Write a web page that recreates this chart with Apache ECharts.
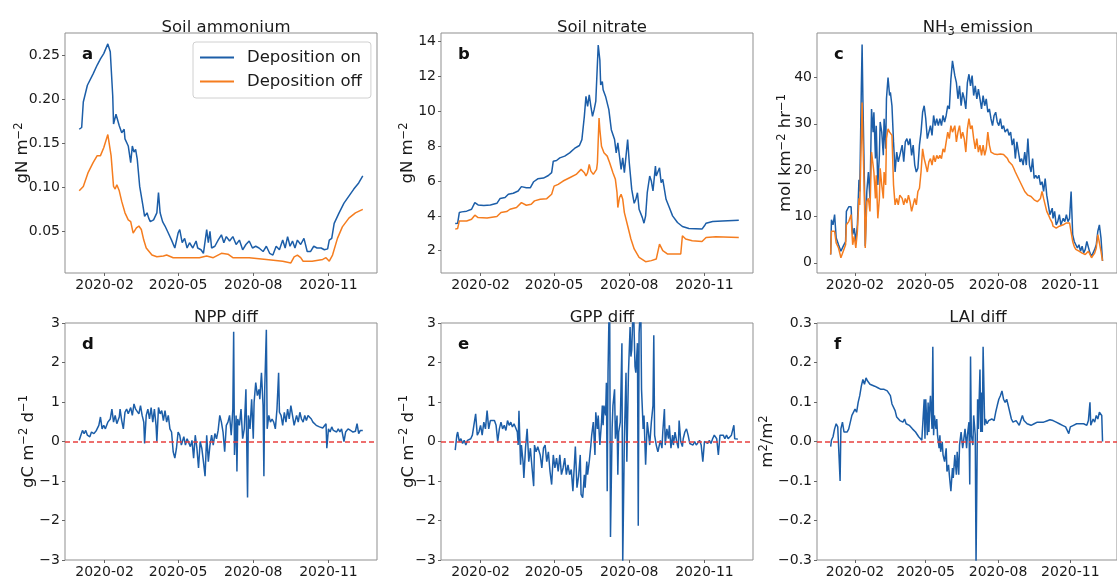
<!DOCTYPE html>
<html><head><meta charset="utf-8">
<script src="https://cdn.jsdelivr.net/npm/echarts@6/dist/echarts.min.js"></script>
<style>html,body{margin:0;padding:0;background:#fff}#c{width:1117px;height:579px}</style>
</head><body><div id="c"></div><script>
// x positions are day of year 2020 (0 = 2020-01-01)
const xTickDays = [31, 121, 213, 305];
const xTickLabels = ['2020-02', '2020-05', '2020-08', '2020-11'];

const aOn = [[0,0.166],[3,0.168],[5,0.197],[10,0.216],[17,0.229],[22,0.239],[26,0.246],[30,0.252],[35,0.263],[38,0.254],[41,0.204],[42,0.172],[45,0.183],[47,0.181],[49,0.17],[52,0.162],[55,0.166],[56,0.155],[60,0.147],[63,0.128],[65,0.147],[67,0.14],[69,0.143],[71,0.132],[74,0.101],[78,0.079],[80,0.067],[83,0.071],[85,0.065],[87,0.061],[91,0.063],[95,0.071],[97,0.094],[99,0.071],[102,0.061],[105,0.056],[109,0.048],[113,0.04],[117,0.031],[121,0.048],[123,0.052],[126,0.037],[129,0.042],[132,0.031],[135,0.037],[139,0.031],[143,0.039],[145,0.031],[149,0.029],[152,0.025],[156,0.052],[158,0.037],[160,0.05],[162,0.031],[166,0.033],[170,0.04],[174,0.046],[177,0.037],[180,0.044],[184,0.039],[188,0.044],[192,0.035],[196,0.04],[200,0.029],[204,0.035],[208,0.039],[212,0.031],[216,0.033],[220,0.031],[225,0.027],[229,0.033],[233,0.025],[237,0.023],[241,0.033],[245,0.029],[249,0.04],[252,0.031],[255,0.044],[258,0.033],[261,0.039],[264,0.031],[267,0.04],[271,0.035],[275,0.042],[279,0.027],[283,0.027],[287,0.033],[291,0.031],[296,0.031],[300,0.029],[304,0.03],[306,0.04],[309,0.042],[312,0.059],[318,0.071],[324,0.082],[330,0.09],[336,0.098],[342,0.105],[347,0.113]];
const aOff = [[0,0.096],[5,0.101],[11,0.117],[17,0.128],[22,0.136],[26,0.136],[30,0.145],[35,0.16],[37,0.159],[39,0.136],[42,0.101],[44,0.098],[46,0.103],[49,0.096],[52,0.084],[56,0.071],[60,0.063],[63,0.061],[66,0.048],[70,0.054],[73,0.056],[76,0.052],[79,0.04],[82,0.031],[89,0.023],[95,0.021],[103,0.022],[107,0.023],[115,0.02],[131,0.02],[147,0.02],[156,0.022],[164,0.02],[174,0.025],[182,0.024],[188,0.02],[208,0.02],[229,0.018],[249,0.016],[259,0.014],[263,0.021],[267,0.023],[271,0.02],[274,0.016],[285,0.016],[298,0.018],[302,0.02],[306,0.016],[310,0.023],[316,0.042],[322,0.055],[330,0.065],[338,0.071],[347,0.075]];

const bOn = [[0,3.56],[3,3.58],[5,4.19],[8,4.23],[14,4.27],[20,4.38],[24,4.76],[28,4.63],[35,4.6],[43,4.63],[51,4.72],[55,5.0],[61,5.05],[65,5.24],[71,5.3],[77,5.43],[81,5.68],[87,5.62],[92,5.62],[96,5.96],[101,6.13],[108,6.17],[114,6.32],[118,6.48],[120,7.14],[124,7.18],[128,7.33],[134,7.43],[140,7.62],[146,7.87],[152,8.04],[155,8.38],[158,9.71],[160,10.86],[162,10.29],[164,10.95],[166,10.29],[168,9.71],[170,10.1],[172,10.57],[173,10.67],[175,13.81],[177,12.95],[178,11.52],[180,11.71],[181,11.24],[184,10.86],[186,10.76],[188,10.1],[191,8.95],[193,8.86],[195,8.38],[197,7.62],[199,8.19],[201,7.43],[203,6.67],[205,7.33],[207,6.48],[209,7.43],[211,8.38],[213,7.05],[216,5.52],[219,4.72],[221,4.95],[223,5.33],[225,4.38],[229,3.9],[231,3.58],[233,4.0],[235,5.33],[238,6.29],[240,6.0],[242,5.43],[244,5.43],[245,6.86],[246,6.29],[248,6.29],[250,6.76],[252,5.9],[254,6.1],[258,4.95],[262,4.48],[266,4.0],[272,3.62],[278,3.39],[286,3.28],[302,3.24],[305,3.43],[307,3.58],[315,3.68],[327,3.71],[347,3.75]];
const bOff = [[0,3.24],[3,3.28],[5,3.71],[14,3.71],[20,3.81],[24,4.04],[28,3.9],[39,3.88],[51,3.96],[56,4.19],[63,4.25],[67,4.38],[75,4.48],[81,4.76],[87,4.61],[93,4.67],[97,4.86],[104,4.95],[112,4.99],[118,5.24],[121,5.71],[126,5.81],[132,6.0],[140,6.19],[148,6.38],[154,6.67],[158,6.48],[160,6.29],[162,6.48],[164,6.95],[166,6.57],[169,6.38],[173,6.67],[174,7.05],[176,9.62],[177,8.95],[179,8.0],[182,7.62],[186,7.43],[189,7.05],[193,6.48],[196,6.1],[198,5.33],[199,4.48],[201,5.05],[203,5.24],[205,4.95],[207,4.19],[211,3.43],[215,2.67],[219,2.1],[225,1.62],[233,1.37],[240,1.43],[246,1.52],[248,1.49],[250,2.38],[254,2.0],[260,1.81],[276,1.81],[278,2.86],[282,2.67],[290,2.57],[302,2.53],[307,2.76],[319,2.8],[347,2.76]];

const cDays = [0,1,3,5,7,10,13,16,19,20,23,26,27,28,30,32,34,36,37,39,40,41,43,44,46,48,50,52,54,55,57,58,60,62,63,65,67,68,70,71,73,75,76,78,80,82,84,86,88,91,93,95,97,99,101,103,105,107,109,111,113,115,117,119,121,123,125,127,129,131,133,135,137,139,141,143,145,147,149,151,153,155,158,160,162,164,166,168,170,172,174,176,178,180,182,184,186,188,190,192,194,196,198,200,202,204,206,208,210,212,214,216,218,220,222,225,227,229,231,233,235,237,239,241,243,245,247,249,251,253,255,257,259,261,263,265,267,269,271,273,275,277,279,282,283,285,287,289,291,293,296,298,300,302,304,306,308,310,312,314,316,318,320,322,324,326,328,330,332,334,336,338,340,342,344,346];
const cOn = [1.8,9.3,8.2,10.4,5.4,3.9,2.5,3.6,4.6,11.1,12.1,12.1,8.2,6.1,7.5,4.6,8.2,17.9,15.4,37.5,47.1,35.4,16.8,3.6,15.4,19.6,13.9,33.2,28.2,32.5,22.5,29.6,16.8,23.2,30.4,28.2,23.2,31.1,24.6,35.4,40,36.1,36.8,33.9,26.1,19.6,23.9,21.8,23.2,25.4,21.8,26.1,26.8,25.4,26.8,23.2,25.4,21.1,19.6,20.4,25.4,28.2,32.5,33.9,31.1,26.8,28.2,29.6,27.5,31.8,29.6,31.1,29.6,31.1,29.6,31.8,30.4,31.8,33.9,33.2,39.6,43.6,40.4,38.9,35.4,38.2,33.9,36.8,35.4,33.2,38.9,40.7,38.2,40.4,36.1,38.2,35.4,37.5,35.4,33.2,36.1,33.9,35.4,32.5,33.2,31.1,29.6,31.8,32.5,30.4,29.6,31.1,28.9,29.6,28.2,28.9,27.5,28.2,25.4,26.8,22.5,26.1,23.9,21.8,22.5,21.1,23.9,21.1,26.8,21.1,19.6,22.5,18.2,18.9,18.2,18.9,16.8,17.5,15.4,18.2,14.6,12.5,10.4,11.8,9.6,11.1,8.2,8.9,10.4,8.2,9.6,8.9,10.4,8.9,9.6,15.4,6.1,4.6,3.9,3.2,3.9,2.5,3.6,2.1,2.9,4.6,4.3,2.1,1.4,1.8,2.9,3.9,6.8,8.2,5.4,0.4];
const cOff = [1.8,6.8,7.1,6.8,4.3,3.2,1.1,2.5,3.9,8.2,8.9,10.4,6.8,3.9,5.7,3.2,6.8,13.9,12.5,26.8,34.6,26.8,13.9,3.2,13.2,13.9,11.1,23.9,21.1,19.6,13.9,18.9,9.6,13.9,20.4,16.8,13.9,19.6,16.8,26.8,28.9,28.2,28.6,27.5,16.8,12.5,13.9,12.5,14.6,13.9,12.5,13.9,12.9,14.6,13.2,11.1,12.5,13.9,12.5,15.4,16.1,19.6,24.6,22.5,21.1,19.6,21.8,22.5,21.1,23.2,21.8,23.2,22.5,23.2,22.5,24.6,23.9,26.1,28.2,26.8,29.6,28.2,29.6,26.1,28.2,29.6,26.8,28.2,26.8,23.9,28.9,31.1,28.9,29.6,26.8,24.6,26.8,23.9,25.4,23.2,25.4,23.2,24.6,28.2,25.4,23.9,23.6,23.5,23.9,23.4,23.2,23.5,23.6,23.4,23.2,22.5,21.8,21.5,21.1,20.4,19.6,18.9,18.2,17.5,16.8,16.1,15.4,15.0,14.6,14.4,14.3,13.9,13.6,13.4,13.2,13.5,13.9,15.4,13.9,12.5,11.1,10.4,9.6,8.6,7.9,7.7,7.5,7.7,7.9,8.0,8.2,8.4,8.6,8.6,8.6,8.2,4.6,3.5,2.9,2.7,2.5,2.3,2.1,1.9,1.8,2.2,2.5,1.8,1.1,1.6,2.1,3.2,6.1,6.1,2.5,0.4];

const dNpp = [[0,0.03],[2,0.16],[4,0.28],[6,0.2],[8,0.28],[10,0.16],[13,0.12],[15,0.24],[18,0.2],[21,0.28],[24,0.41],[26,0.62],[28,0.32],[30,0.41],[32,0.32],[35,0.49],[38,0.57],[40,0.82],[42,0.49],[44,0.66],[46,0.45],[49,0.62],[50,0.82],[52,0.53],[54,0.32],[56,0.74],[58,0.82],[60,0.7],[63,0.86],[65,0.66],[67,0.95],[69,0.82],[71,0.86],[73,0.7],[75,0.91],[77,0.66],[79,0.49],[80,-0.05],[82,0.66],[84,0.82],[86,0.57],[88,0.86],[90,0.49],[92,0.82],[94,0.41],[95,0],[97,0.86],[99,0.7],[101,0.78],[103,0.53],[105,0.78],[107,0.49],[109,0.66],[111,0.32],[113,0.24],[115,-0.26],[117,-0.42],[119,-0.17],[121,0.24],[123,0.16],[125,-0.09],[128,0.12],[130,-0.09],[132,0.07],[134,0.12],[136,-0.13],[138,0.03],[140,-0.42],[142,0.16],[144,-0.17],[146,-0.67],[148,0],[150,-0.17],[152,-0.51],[154,-0.88],[156,0.16],[158,-0.51],[160,-0.09],[162,0.16],[164,-0.09],[166,0.2],[168,0.07],[170,0.28],[172,0.66],[174,0.49],[176,0.24],[178,-0.26],[180,0.41],[182,0.49],[184,0.66],[186,0.16],[188,0.82],[189,2.78],[190,-0.34],[192,0.66],[193,-0.76],[194,0.57],[196,0.41],[198,0.82],[200,0.07],[202,0.32],[204,1.32],[206,-1.42],[207,0.66],[209,0.32],[211,1.07],[213,0.07],[214,0.99],[216,1.49],[218,1.16],[220,1.32],[221,1.07],[223,1.74],[225,0.91],[226,-0.88],[227,1.32],[229,2.83],[230,0.32],[232,0.66],[234,0.49],[236,0.57],[238,0.49],[240,0.32],[242,0.82],[244,1.74],[245,0.74],[247,0.66],[249,0.41],[251,0.74],[253,0.49],[255,0.82],[257,0.57],[259,0.91],[261,0.66],[263,0.41],[266,0.66],[268,0.49],[270,0.74],[272,0.57],[274,0.49],[276,0.66],[278,0.53],[280,0.66],[282,0.66],[284,0.57],[286,0.49],[288,0.53],[290,0.41],[292,0.45],[294,0.37],[296,0.39],[298,0.34],[300,0.34],[302,0.45],[303,-0.17],[305,0.32],[307,0.24],[309,0.37],[311,0.28],[313,0.32],[315,0.24],[317,0.32],[319,0.24],[321,0.32],[323,0.28],[324,0],[326,0.24],[329,0.32],[332,0.28],[335,0.24],[338,0.26],[340,0.45],[342,0.2],[344,0.28],[346,0.24],[347,0.28]];

const eGpp = [[0,-0.22],[2,0.16],[3,0.24],[5,0],[7,0.07],[9,-0.05],[11,0.03],[13,-0.09],[15,0.03],[17,0],[19,0.07],[21,0.16],[23,0.12],[25,0.7],[27,0.16],[29,0.24],[31,0.41],[33,0.16],[35,0.49],[37,0.32],[39,0.78],[41,0.32],[43,0.53],[45,0.49],[48,0.53],[50,0.41],[52,0],[54,0.32],[56,0.49],[58,0.32],[60,0.41],[62,0.28],[64,0.53],[66,0.41],[68,0.49],[70,0.37],[72,0.45],[74,0.41],[76,0.24],[77,-0.09],[78,0.78],[80,-0.59],[81,-0.09],[83,-0.51],[84,-0.92],[86,-0.17],[88,0.32],[90,-0.51],[92,-0.17],[94,-0.67],[96,-1.13],[97,-0.09],[99,-0.26],[101,-0.13],[104,-0.34],[106,-0.67],[108,-0.17],[110,-0.09],[112,-0.51],[114,-0.26],[116,-0.76],[118,-1.09],[120,-0.34],[122,-0.67],[124,-0.42],[126,-0.76],[128,-0.34],[130,-0.84],[132,-0.67],[134,-0.42],[136,-0.84],[138,-0.59],[140,-0.84],[142,-0.71],[144,-1.26],[146,-0.51],[147,-0.13],[149,-1.17],[151,-0.88],[153,-0.34],[154,-1.34],[156,-1.42],[158,-0.84],[159,-1.17],[161,-0.51],[162,-0.84],[164,-0.51],[166,-0.09],[167,0.16],[169,0.49],[171,-0.34],[172,0.74],[174,0.32],[175,0.66],[177,-0.09],[179,0.49],[180,0.91],[181,0.41],[182,0.91],[184,0.66],[185,1.49],[186,-1.26],[187,1.74],[188,3.0],[189,3.6],[190,-2.42],[192,0.32],[193,0.91],[195,1.32],[196,0.07],[198,0.66],[199,-0.84],[200,0.24],[202,0.49],[204,2.49],[205,-3.1],[207,0.07],[209,1.74],[210,-0.51],[212,1.74],[214,2.9],[215,2.15],[216,2.32],[218,3.6],[220,1.9],[221,1.74],[223,2.49],[224,-2.13],[225,2.73],[227,3.6],[228,1.32],[230,0.32],[231,0.66],[233,-0.59],[235,0.49],[236,0.32],[238,-0.09],[240,0.49],[242,0.91],[243,2.69],[244,0.16],[246,-0.09],[248,-0.26],[249,-0.17],[251,0.03],[253,-0.17],[254,0.24],[256,0.82],[257,-0.09],[259,0.32],[261,0.07],[262,0.41],[264,-0.17],[266,0.16],[267,-0.09],[269,0.24],[271,0],[273,-0.17],[274,0.53],[276,0],[278,-0.13],[279,0.07],[281,0.24],[283,0.32],[285,0.16],[287,-0.05],[289,0],[291,-0.09],[293,0],[295,-0.09],[297,-0.05],[299,0.03],[301,-0.09],[303,-0.51],[305,0],[307,0.03],[309,-0.05],[311,0.03],[313,-0.05],[315,0.07],[317,0.16],[320,0.07],[322,-0.34],[324,0.16],[326,0.12],[328,0.16],[330,0.07],[332,0.16],[334,0.07],[336,0.12],[338,0.16],[340,0.2],[341,0.41],[342,0.07],[344,0.03],[346,0.06]];

const fLai = [[0,-0.013],[1,0.003],[3,0.012],[5,0.032],[7,0.045],[9,0.037],[11,0.041],[12,-0.1],[13,0.032],[15,0.049],[17,0.024],[19,0.028],[21,0.024],[23,0.032],[25,0.049],[27,0.066],[29,0.062],[31,0.082],[33,0.074],[35,0.099],[37,0.116],[39,0.14],[41,0.157],[43,0.145],[45,0.161],[47,0.153],[50,0.145],[52,0.14],[56,0.14],[60,0.136],[64,0.132],[68,0.132],[72,0.128],[76,0.116],[78,0.095],[80,0.091],[82,0.078],[84,0.062],[88,0.053],[92,0.049],[94,0.057],[96,0.045],[100,0.041],[104,0.032],[108,0.024],[112,0.012],[116,0.003],[117,0.007],[119,0.107],[120,0.007],[121,0.107],[123,0.016],[124,0.099],[125,0.024],[126,0.082],[127,0.116],[129,0.032],[130,0.24],[131,0.016],[132,0.066],[134,0.032],[135,0.057],[136,0.016],[138,-0.017],[139,0.016],[140,-0.026],[142,-0.001],[143,-0.034],[145,-0.051],[147,-0.017],[148,-0.076],[150,-0.059],[151,-0.084],[153,-0.126],[155,-0.067],[156,-0.092],[158,-0.034],[160,-0.084],[161,-0.026],[163,-0.084],[164,-0.009],[166,0.024],[168,-0.017],[169,-0.001],[171,0.032],[173,-0.017],[174,0.016],[176,0.049],[177,-0.109],[178,0.215],[179,0.016],[181,-0.009],[182,0.066],[184,0.016],[185,-0.31],[186,-0.117],[187,0.107],[188,0.032],[190,0.182],[191,0.024],[192,0.124],[193,0.024],[194,0.24],[196,0.041],[197,0.057],[199,0.045],[201,0.053],[203,0.049],[205,0.057],[208,0.053],[210,0.074],[212,0.091],[214,0.107],[216,0.116],[218,0.128],[220,0.107],[222,0.099],[224,0.107],[226,0.091],[228,0.074],[230,0.057],[232,0.049],[234,0.045],[236,0.053],[238,0.049],[240,0.041],[242,0.045],[244,0.066],[246,0.053],[250,0.045],[255,0.041],[259,0.045],[263,0.049],[267,0.049],[271,0.049],[275,0.052],[279,0.055],[283,0.053],[287,0.049],[291,0.045],[295,0.041],[299,0.037],[301,0.032],[303,0.02],[305,0.037],[307,0.032],[309,0.041],[311,0.037],[313,0.045],[315,0.041],[318,0.045],[320,0.042],[322,0.045],[324,0.049],[326,0.041],[328,0.053],[330,0.099],[331,0.041],[333,0.045],[334,0.057],[336,0.049],[338,0.066],[340,0.057],[342,0.074],[343,0.07],[345,0.066],[346,0]];

const BLUE = '#1c5ea8', ORANGE = '#f57d1f', RED = '#e8403f', TXT = '#1a1a1a';
const X_MIN = -17.4, X_MAX = 364.4, W = 312, H = 240;
const FONT = 'DejaVu Sans';

const panels = [
  {letter:'a', title:'Soil ammonium', left:65, top:33, yMin:0.0026, yMax:0.2754, yTicks:[0.05,0.10,0.15,0.20,0.25], dec:2, yName:'gN m{sup|−2}', gap:32,
   series:[{name:'Deposition on', data:aOn, color:BLUE},{name:'Deposition off', data:aOff, color:ORANGE}]},
  {letter:'b', title:'Soil nitrate', left:441, top:33, yMin:0.72, yMax:14.5, yTicks:[2,4,6,8,10,12,14], dec:0, yName:'gN m{sup|−2}', gap:23,
   series:[{name:'Deposition on', data:bOn, color:BLUE},{name:'Deposition off', data:bOff, color:ORANGE}]},
  {letter:'c', title:'NH{sub|3} emission', left:817, top:33, yMin:-2.2, yMax:49.6, yTicks:[0,10,20,30,40], dec:0, yName:'mol km{sup|−2} hr{sup|−1}', gap:21,
   series:[{name:'Deposition on', data:cDays.map((d,i)=>[d,cOn[i]]), color:BLUE},{name:'Deposition off', data:cDays.map((d,i)=>[d,cOff[i]]), color:ORANGE}]},
  {letter:'d', title:'NPP diff', left:65, top:323, yMin:-3, yMax:3, yTicks:[-3,-2,-1,0,1,2,3], dec:0, yName:'gC m{sup|−2} d{sup|−1}', gap:26.5, zero:true,
   series:[{name:'NPP', data:dNpp, color:BLUE}]},
  {letter:'e', title:'GPP diff', left:441, top:323, yMin:-3, yMax:3, yTicks:[-3,-2,-1,0,1,2,3], dec:0, yName:'gC m{sup|−2} d{sup|−1}', gap:22.5, zero:true,
   series:[{name:'GPP', data:eGpp, color:BLUE}]},
  {letter:'f', title:'LAI diff', left:817, top:323, yMin:-0.3, yMax:0.3, yTicks:[-0.3,-0.2,-0.1,0,0.1,0.2,0.3], dec:1, yName:'m{sup|2}/m{sup|2}', gap:39, zero:true,
   series:[{name:'LAI', data:fLai, color:BLUE}]}
];

const richSup = {sup:{fontFamily:FONT, fontSize:11.5, verticalAlign:'top', lineHeight:12, color:TXT},
                 sub:{fontFamily:FONT, fontSize:11.5, verticalAlign:'bottom', lineHeight:12, color:TXT}};

const option = {animation:false, backgroundColor:'#fff', grid:[], xAxis:[], yAxis:[], series:[], title:[],
  legend:{data:['Deposition on','Deposition off'], left:193, top:42, orient:'vertical', icon:'rect', itemWidth:34, itemHeight:2,
    itemGap:5, padding:[6,9,7,7], borderColor:'#d0d0d0', borderWidth:1, borderRadius:3, backgroundColor:'rgba(255,255,255,0.85)',
    textStyle:{fontFamily:FONT, fontSize:16.5, color:TXT, lineHeight:19, padding:[0,0,0,8]}, selectedMode:false}
};

panels.forEach((p,i)=>{
  option.grid.push({left:p.left, top:p.top, width:W, height:H, show:true, borderColor:'#8f8f8f', borderWidth:1, containLabel:false});
  option.xAxis.push({type:'value', gridIndex:i, min:X_MIN, max:X_MAX, splitLine:{show:false}, axisLine:{show:false, onZero:false},
    axisTick:{show:true, length:3, lineStyle:{color:'#666'}, customValues:xTickDays},
    axisLabel:{customValues:xTickDays, margin:5, fontFamily:FONT, fontSize:14, color:TXT,
      formatter:v=>xTickLabels[xTickDays.indexOf(Math.round(v))] || ''}});
  option.yAxis.push({type:'value', gridIndex:i, min:p.yMin, max:p.yMax, splitLine:{show:false}, axisLine:{show:false, onZero:false},
    axisTick:{show:true, length:3, lineStyle:{color:'#666'}, customValues:p.yTicks},
    axisLabel:{customValues:p.yTicks, margin:5, fontFamily:FONT, fontSize:14, color:TXT,
      formatter:v=>Number(v).toFixed(p.dec).replace('-','−')},
    name:p.yName, nameLocation:'middle', nameGap:p.gap, nameMoveOverlap:false,
    nameTextStyle:{fontFamily:FONT, fontSize:16.5, lineHeight:20, color:TXT, rich:richSup}});
  option.title.push({text:p.title, left:p.left + W/2, top:p.top - 20, textAlign:'center',
    textStyle:{fontFamily:FONT, fontSize:16.5, lineHeight:20, fontWeight:'normal', color:TXT, rich:richSup}});
  option.title.push({text:p.letter, left:p.left + 12, top:p.top + 8,
    textStyle:{fontFamily:FONT, fontSize:16.5, fontWeight:'bold', color:'#111'}});
  p.series.forEach((s,k)=>{
    const ser = {type:'line', name:s.name, xAxisIndex:i, yAxisIndex:i, data:s.data, symbol:'none', clip:true,
      lineStyle:{color:s.color, width:1.5}, itemStyle:{color:s.color}, z:3+k};
    if(p.zero && k===0){
      ser.markLine = {silent:true, symbol:'none', label:{show:false}, animation:false,
        lineStyle:{color:RED, type:[5,3], width:1.5}, data:[{yAxis:0}], z:5};
    }
    option.series.push(ser);
  });
});

const chart = echarts.init(document.getElementById('c'), null, {renderer:'canvas'});
chart.setOption(option);
</script></body></html>
